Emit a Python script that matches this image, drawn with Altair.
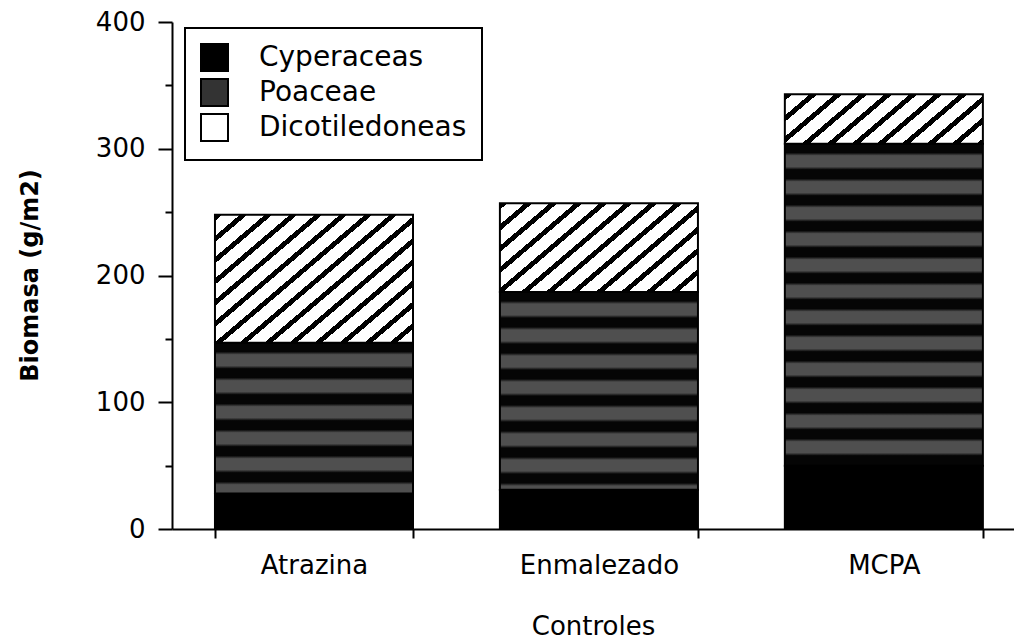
import altair as alt
import pandas as pd

# ---- data ----
controles = ["Atrazina", "Enmalezado", "MCPA"]
grupos = ["Cyperaceas", "Poaceae", "Dicotiledoneas"]
cyperaceas = [28, 31, 50]
poaceae = [119, 156, 254]
dicotiledoneas = [101, 70, 39]
y_ticks = [0, 50, 100, 150, 200, 250, 300, 350, 400]

# ---- layout ----
W, H = 842, 507
Y_MAX = 400
P_INNER, P_OUTER, ALIGN = 0.305, 0.13, 0.58
step = W / (len(controles) - P_INNER + 2 * P_OUTER)
bw = (1 - P_INNER) * step
ppu = H / Y_MAX
FONT = "DejaVu Sans"

rows = []
for i, c in enumerate(controles):
    for j, (g, vals) in enumerate(zip(grupos, [cyperaceas, poaceae, dicotiledoneas])):
        rows.append({"Control": c, "Grupo": g, "Biomasa": vals[i], "ord": j})
df = pd.DataFrame(rows)


def hatch_gradient(h_px, w_px, t=0.85, s=25.0, frac=0.3):
    """diagonal '/' stripes in bounding-box gradient space"""
    denom = t * w_px + h_px
    q = t * t * w_px * w_px + h_px * h_px
    dx = t * w_px * denom / q
    dy = h_px * denom / q
    period = t * s / denom
    stops = []
    k = 0
    while k * period < 1:
        a = k * period
        b = min(a + frac * period, 1)
        e = min((k + 1) * period, 1)
        stops += [
            {"offset": a, "color": "black"},
            {"offset": b, "color": "black"},
            {"offset": b, "color": "white"},
            {"offset": e, "color": "white"},
        ]
        k += 1
    return {"gradient": "linear", "x1": 0, "y1": 0, "x2": dx, "y2": dy, "stops": stops}


def band_gradient(h_px, period_px=26.0, dark=9.0):
    period = period_px / h_px
    d = dark / h_px
    stops = []
    k = 0
    while k * period < 1:
        a = k * period
        stops += [
            {"offset": min(a, 1), "color": "#050505"},
            {"offset": min(a + d, 1), "color": "#050505"},
            {"offset": min(a + d + 3 / h_px, 1), "color": "#4f4f4f"},
            {"offset": min(a + period - 3 / h_px, 1), "color": "#4f4f4f"},
        ]
        k += 1
    return {"gradient": "linear", "x1": 0, "y1": 0, "x2": 0, "y2": 1, "stops": stops}


conds = []
for i, c in enumerate(controles):
    conds.append({
        "test": f"datum.Grupo == 'Dicotiledoneas' && datum.Control == '{c}'",
        "value": hatch_gradient(dicotiledoneas[i] * ppu, bw),
    })
    conds.append({
        "test": f"datum.Grupo == 'Poaceae' && datum.Control == '{c}'",
        "value": band_gradient(poaceae[i] * ppu),
    })

chart = alt.Chart(df).mark_bar(stroke="black", strokeWidth=2).encode(
    x=alt.X(
        "Control:N",
        sort=controles,
        scale=alt.Scale(domain=controles, paddingInner=P_INNER, paddingOuter=P_OUTER, align=ALIGN),
        axis=alt.Axis(
            title="Controles",
            labelAngle=0,
            tickBand="extent",
            tickSize=9,
            labelPadding=14,
            labelFontSize=26,
            titleFontSize=26,
            titleFontWeight="normal",
            titleY=97,
            titleBaseline="middle",
        ),
    ),
    y=alt.Y(
        "Biomasa:Q",
        stack="zero",
        scale=alt.Scale(domain=[0, Y_MAX], nice=False),
        axis=alt.Axis(
            title="Biomasa (g/m2)",
            values=y_ticks,
            labelExpr="datum.value % 100 === 0 ? datum.label : ''",
            tickSize={"condition": {"test": "datum.value % 100 === 0", "value": 14}, "value": 7},
            labelPadding=13,
            labelFontSize=26,
            grid=False,
            titleFontSize=24,
            titleFontWeight="bold",
            titleAngle=-90,
            titleX=-142,
            titleY=253,
            titleAlign="center",
            titleBaseline="middle",
        ),
    ),
    fill=alt.Fill(
        "Grupo:N",
        scale=alt.Scale(domain=grupos, range=["black", "#333333", "white"]),
        legend=alt.Legend(
            title=None,
            orient="none",
            legendX=13,
            legendY=6,
            symbolType="square",
            symbolSize=729,
            symbolStrokeColor="black",
            symbolStrokeWidth=2,
            labelFontSize=28,
            labelOffset=30,
            labelLimit=500,
            rowPadding=0,
            padding=15,
            strokeColor="black",
        ),
        condition=conds,
    ),
    order=alt.Order("ord:Q"),
).properties(
    width=W,
    height=H,
    autosize=alt.AutoSizeParams(type="none"),
    padding={"left": 164, "top": 14, "right": 0, "bottom": 111},
).configure(
    font=FONT,
).configure_axis(
    domainColor="black",
    domainWidth=2,
    tickColor="black",
    tickWidth=2,
    labelColor="black",
    titleColor="black",
    labelFont=FONT,
    titleFont=FONT,
).configure_legend(
    labelColor="black",
    labelFont=FONT,
    strokeWidth=2,
).configure_view(
    strokeWidth=0,
)

chart.save("out.html", embed_options={"renderer": "svg", "actions": False})
